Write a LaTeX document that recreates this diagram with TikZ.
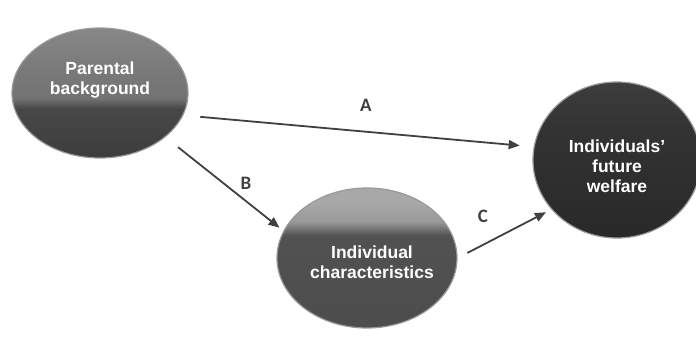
\documentclass[tikz,border=0pt]{standalone}
\usepackage{fontspec}
\setmainfont{Liberation Sans}
\newfontfamily\lblfont{Carlito}
\usetikzlibrary{shapes.geometric,arrows.meta}

% shadings: the box of the path maps to 25bp..75bp
\pgfdeclareverticalshading{pbshade}{100bp}{color(0bp)=(black!76); color(25bp)=(black!76); color(44bp)=(black!72); color(48bp)=(black!55); color(60bp)=(black!52); color(75bp)=(black!47); color(100bp)=(black!47)}
\pgfdeclareverticalshading{icshade}{100bp}{color(0bp)=(black!70); color(25bp)=(black!70); color(58bp)=(black!68); color(63bp)=(black!40); color(70bp)=(black!34); color(75bp)=(black!34); color(100bp)=(black!34)}
\pgfdeclareverticalshading{fwshade}{100bp}{color(0bp)=(black!84); color(25bp)=(black!84); color(60bp)=(black!80); color(75bp)=(black!76); color(100bp)=(black!76)}

\tikzset{
  blob/.style={ellipse, inner sep=0pt, draw=black!40, line width=1.2pt},
  blobtext/.style={text=white, font=\bfseries\fontsize{17.5}{20}\selectfont, align=center},
  path/.style={draw=black!75, line width=1.8pt, -{Triangle[length=11pt,width=9pt]}},
  pathlabel/.style={text=black!75, font=\lblfont\bfseries\fontsize{19}{19}\selectfont}
}

\begin{document}
\begin{tikzpicture}[x=1pt,y=1pt]
    \useasboundingbox (0,0) rectangle (696,343);

    % Parental background
    \node[blob, shading=pbshade, minimum width=176pt, minimum height=130pt] (pb) at (100,250) {};
    \node[blobtext] (pbtext) at (100,263) {Parental\\background};

    % Individual characteristics
    \node[blob, shading=icshade, minimum width=180pt, minimum height=140pt] (ic) at (367,85) {};
    \node[blobtext] (ictext) at (372,81) {Individual\\characteristics};

    % Individuals' future welfare
    \node[blob, shading=fwshade, minimum width=168pt, minimum height=156pt] (fw) at (617,183) {};
    \node[blobtext] (fwtext) at (617,177) {Individuals’\\future\\welfare};

    % Arrows
    \draw[path, shorten <=17pt, shorten >=14pt] (pb.-15) -- (fw.171.7);
    \draw[path, shorten <=16pt, shorten >=5pt] (pb.-34) -- (ic.162.6);
    \draw[path, shorten <=11pt, shorten >=6pt] (ic.0) -- (fw.217);

    % Labels
    \node[pathlabel] (a) at (366,238) {A};
    \node[pathlabel] (b) at (246,160) {B};
    \node[pathlabel] (c) at (483,127) {C};
\end{tikzpicture}
\end{document}
